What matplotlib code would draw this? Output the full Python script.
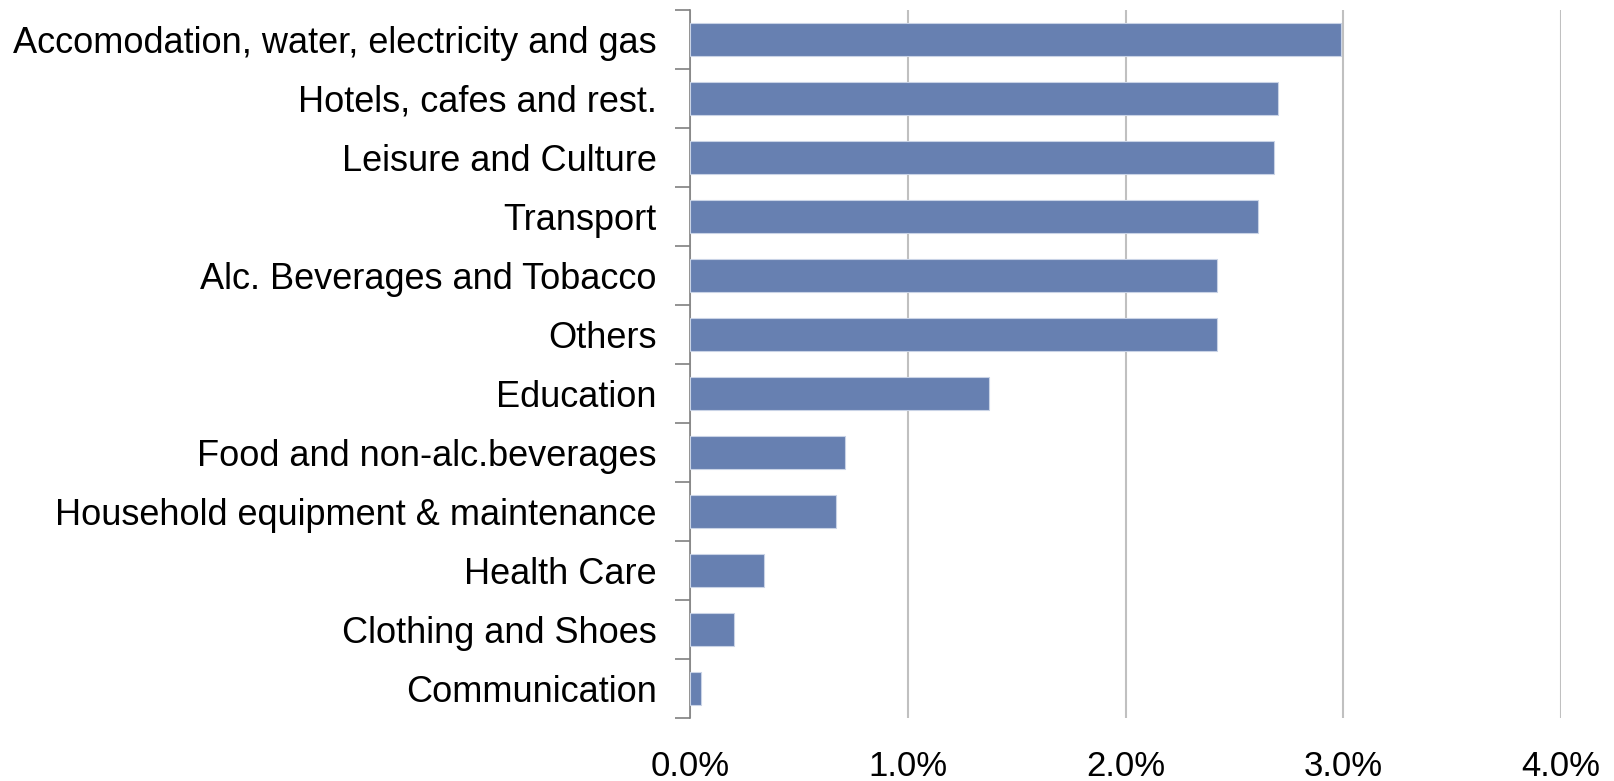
import numpy as np
import matplotlib.pyplot as plt
from matplotlib.ticker import FuncFormatter, FixedLocator

plt.rcParams['font.family'] = ['Liberation Sans', 'DejaVu Sans']

categories = [
    'Accomodation, water, electricity and gas',
    'Hotels, cafes and rest.',
    'Leisure and Culture',
    'Transport',
    'Alc. Beverages and Tobacco',
    'Others',
    'Education',
    'Food and non-alc.beverages',
    'Household equipment & maintenance',
    'Health Care',
    'Clothing and Shoes',
    'Communication',
]
values = [2.99, 2.70, 2.68, 2.61, 2.42, 2.42, 1.37, 0.71, 0.67, 0.34, 0.20, 0.05]
xticks = [0, 1, 2, 3, 4]

fig = plt.figure(figsize=(16.14, 7.81), dpi=100)
ax = fig.add_axes([0.4277, 0.0807, 0.5395, 0.9071])

y = np.arange(len(categories))
ax.barh(y, values, height=0.56, color='#6780b1', edgecolor='#c9d3e6', linewidth=0.8, zorder=3)

ax.set_ylim(len(categories) - 0.5, -0.5)
ax.set_xlim(0, 4)
ax.set_yticks(y)
ax.set_yticklabels(categories, fontsize=26)
ax.yaxis.set_minor_locator(FixedLocator(np.arange(-0.5, len(categories), 1)))
ax.tick_params(axis='y', which='major', length=0, pad=24)
ax.tick_params(axis='y', which='minor', length=11, width=1.2, color='#808080')

ax.set_xticks(xticks)
ax.xaxis.set_major_formatter(FuncFormatter(lambda v, p: f'{v:.1f}%'))
ax.tick_params(axis='x', length=0, pad=23, labelsize=25)
ax.grid(axis='x', color='#c0c0c0', linewidth=1.5, zorder=0)

for s in ['top', 'right', 'bottom']:
    ax.spines[s].set_visible(False)
ax.spines['left'].set_color('#808080')
ax.spines['left'].set_linewidth(1.2)

fig.savefig('out.png', dpi=100)
